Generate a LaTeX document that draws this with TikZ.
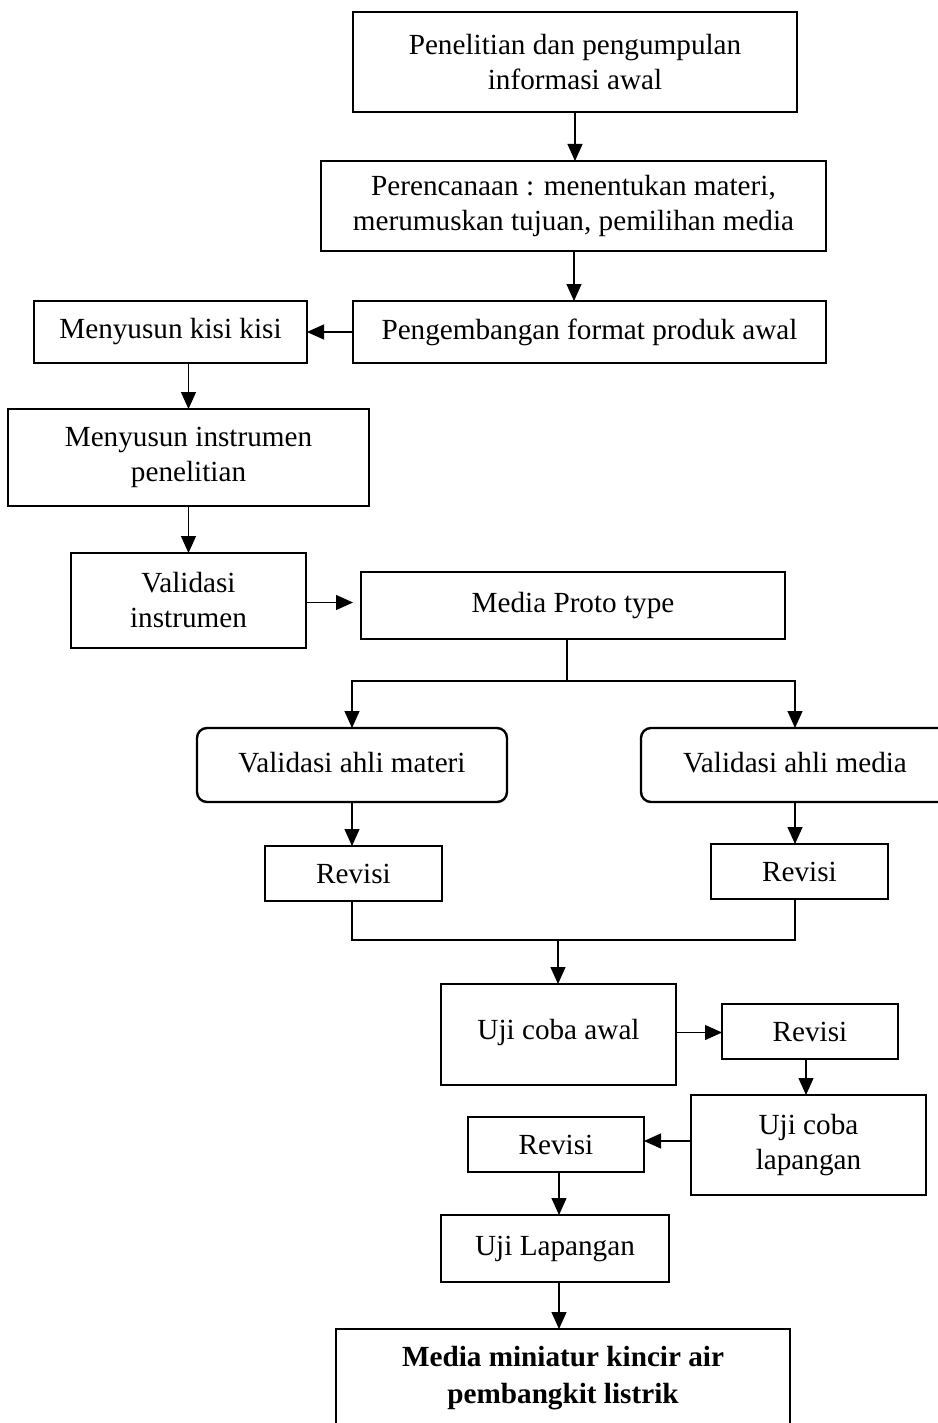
\documentclass[tikz,border=0pt]{standalone}
\usepackage{fontspec}
\setmainfont{Liberation Serif}
\usetikzlibrary{arrows.meta,calc}
\begin{document}
\begin{tikzpicture}[x=0.5pt,y=-0.5pt,
  box/.style={draw,line width=1.2pt,inner sep=0pt,outer sep=0pt,align=center,
    font=\fontsize{14.6}{17.5}\selectfont},
  rbox/.style={box,rounded corners=5pt},
  conn/.style={line width=0.6pt},
  arr/.style={conn,-{Triangle[length=8.5pt,width=7.5pt]}}]
\useasboundingbox (0,0) rectangle (937,1423);
\fill[white] (0,0) rectangle (937,1423);
\node[box,minimum width=222pt,minimum height=50pt] (b1) at (575,62) {Penelitian dan pengumpulan\\informasi awal};
\node[box,minimum width=252.5pt,minimum height=45pt] (b2) at (573.5,206) {Perencanaan : menentukan materi,\\merumuskan tujuan, pemilihan media};
\node[box,minimum width=236.5pt,minimum height=31pt] (b3) at (589.5,332) {Pengembangan format produk awal};
\node[box,minimum width=136.5pt,minimum height=31pt] (b4) at (170.5,332) {Menyusun kisi kisi};
\node[box,minimum width=180.5pt,minimum height=48.5pt] (b5) at (188.5,457.5) {Menyusun instrumen\\penelitian};
\node[box,minimum width=117.5pt,minimum height=47.5pt] (b6) at (188.5,600.5) {Validasi\\instrumen};
\node[box,minimum width=212pt,minimum height=33.5pt] (b7) at (573,605.5) {\raisebox{1.5pt}{Media Proto type}};
\node[rbox,minimum width=155pt,minimum height=37pt] (b8) at (352,765) {\raisebox{2.5pt}{Validasi ahli materi}};
\node[rbox,minimum width=154pt,minimum height=37pt] (b9) at (795,765) {\raisebox{2.5pt}{Validasi ahli media}};
\node[box,minimum width=88.5pt,minimum height=27.5pt] (b10) at (353.5,873.5) {Revisi};
\node[box,minimum width=88.5pt,minimum height=27.5pt] (b11) at (799.5,871.5) {Revisi};
\node[box,minimum width=117.5pt,minimum height=50.5pt] (b12) at (558.5,1034.5) {\raisebox{5pt}{Uji coba awal}};
\node[box,minimum width=88pt,minimum height=27.5pt] (b13) at (810,1031.5) {Revisi};
\node[box,minimum width=117.5pt,minimum height=50pt] (b14) at (808.5,1145) {Uji coba\\lapangan};
\node[box,minimum width=88pt,minimum height=27.5pt] (b15) at (556,1144.5) {Revisi};
\node[box,minimum width=114pt,minimum height=33.5pt] (b16) at (555,1248.5) {Uji Lapangan};
\node[box,minimum width=227pt,minimum height=49pt,font=\fontsize{14.6}{18.5}\selectfont\bfseries] (b17) at (563,1378) {Media miniatur kincir air\\pembangkit listrik};
% connectors
\draw[arr] (b1.south) -- (b1.south |- b2.north);
\draw[arr] ($(b2.south)+(0.5,0)$) -- ($(b2.south |- b3.north)+(0.5,0)$);
\draw[arr] (b3.west) -- (b4.east);
\draw[arr] (b5.north |- b4.south) -- (b5.north);
\draw[arr] (b5.south) -- (b6.north);
\draw[arr] ($(b6.east)+(0,2)$) -- ($(b6.east -| b7.west)+(-8,2)$);
\coordinate (j1) at ($(b7.south)+(-6,42)$);
\draw[conn] (j1 |- b7.south) -- (j1);
\draw[arr] (j1) -| (b8.north);
\draw[arr] (j1) -| (b9.north);
\draw[arr] (b8.south) -- (b8.south |- b10.north);
\draw[arr] (b9.south) -- (b9.south |- b11.north);
\coordinate (j2) at (558,940);
\draw[conn] (b8.south |- b10.south) -- (b8.south |- j2) -- (b9.south |- j2) -- (b9.south |- b11.south);
\draw[arr] (j2) -- (j2 |- b12.north);
\draw[arr] ($(b12.east)+(0,-2)$) -- ($(b12.east -| b13.west)+(0,-2)$);
\draw[arr] ($(b13.south)+(-4,0)$) -- ($(b13.south |- b14.north)+(-4,0)$);
\draw[arr] ($(b14.west)+(0,-4)$) -- ($(b14.west -| b15.east)+(0,-4)$);
\draw[arr] ($(b15.south)+(3,0)$) -- ($(b15.south |- b16.north)+(3,0)$);
\draw[arr] ($(b16.south)+(4,0)$) -- ($(b16.south |- b17.north)+(4,0)$);
\end{tikzpicture}
\end{document}
